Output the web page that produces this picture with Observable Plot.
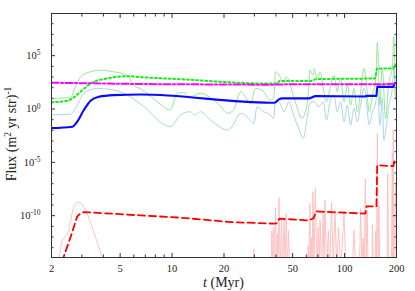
<!DOCTYPE html>
<html><head><meta charset="utf-8">
<script src="https://cdn.jsdelivr.net/npm/d3@7"></script>
<script src="https://cdn.jsdelivr.net/npm/@observablehq/plot@0.6"></script>
<style>body{margin:0;background:#fff}</style>
</head><body><div id="chart"></div>
<script>
// ---- tick values ----
const xMajor = [2, 5, 10, 20, 50, 100, 200];
const xMinor = [3, 4, 6, 7, 8, 9, 30, 40, 60, 70, 80, 90];
const yMajor = [1e-10, 1e-5, 1, 1e5];
const yMinor = [1e-13, 1e-12, 1e-11, 1e-9, 1e-8, 1e-7, 1e-6, 1e-4, 1e-3, 1e-2, 1e-1, 1e1, 1e2, 1e3, 1e4, 1e6, 1e7, 1e8];

// ---- series (t in Myr, flux) ----
const tBlue = [2, 2.64, 2.82, 3.08, 3.37, 3.76, 4.59, 6.6, 37.2, 39.3, 41.6, 43.5, 62, 68, 132, 134, 153, 154.6, 192, 194.6, 200];
const fBlue = [1.6e-2, 2.2e-2, 6.5e-2, 0.81, 6.0, 14, 20, 23, 3.9, 3.9, 8.1, 10, 10, 16, 15, 17, 17, 120, 120, 250, 270];

const tMag = [2, 5, 6.6, 20, 37, 45, 150, 200];
const fMag = [290, 235, 220, 200, 190, 205, 205, 240];

const tDot = [2, 2.47, 2.69, 2.95, 3.37, 4.21, 5.5, 6.56, 11.7, 21, 37.2, 40.8, 42, 64.4, 67.9, 150, 154.6, 192, 194.6, 200];
const fDot = [4.3, 6.0, 12, 42, 250, 740, 1200, 980, 600, 330, 240, 240, 420, 420, 630, 740, 6300, 6300, 14500, 14500];

const tLG = [2, 2.58, 2.75, 2.95, 3.37, 3.84, 4.57, 5.49, 5.97, 6.56, 8.0, 9.78, 10.7, 11.7, 12.7, 14.6, 16.7, 19.1, 21, 22.7, 25, 28.6, 30.4, 33.2, 37.2, 38.8, 39.8, 41.7, 44.6, 45.6, 47.6, 49.6, 51.8, 54.1, 56.5, 59.0, 61.6, 62.9, 65.5, 66.9, 69.2, 72.2, 75.3, 78.6, 82.3, 86.8, 90.7, 94.8, 99.3, 103.8, 108.4, 113.3, 118.6, 123.9, 129.6, 134, 138.8, 145.2, 151.8, 155, 160.3, 165.4, 172.9, 180.8, 189, 193.1, 197.4, 200];
const fLG = [10, 12, 120, 1050, 3100, 4400, 3100, 1500, 174, 80, 6.9, 0.81, 30, 36, 14, 30, 11, 1.9, 0.4, 0.81, 42, 3.4, 85, 60, 6.9, 10, 3100, 1500, 250, 1050, 510, 42, 4.8, 0.56, 0.13, 0.4, 30, 4400, 1500, 6300, 740, 3100, 85, 4.8, 85, 1500, 42, 740, 4.8, 174, 2.3, 85, 0.56, 42, 6300, 174, 0.56, 20, 740, 1.9e6, 2.3, 6300, 0.13, 350, 6300, 5.8e6, 6.9, 510];

const tLB = [2, 2.58, 2.82, 3.08, 3.68, 4.21, 5.24, 6.56, 9.78, 11.2, 12.7, 13.6, 14.6, 16.7, 21, 21.9, 25, 27.2, 29.8, 31.1, 34, 37.2, 38.8, 39.8, 41.7, 44.6, 47.6, 50.6, 54.1, 57.7, 60.3, 62.9, 66.9, 70.4, 75.3, 78.6, 82.3, 86.8, 90.7, 94.8, 99.3, 103.8, 108.4, 113.3, 118.6, 123.9, 129.6, 134, 138.8, 145.2, 151.8, 155, 160.3, 165.4, 169, 172.9, 180.8, 189, 193.1, 197.4, 200];
const fLB = [0.28, 0.32, 2.3, 30, 85, 74, 30, 3.0, 0.022, 0.28, 0.56, 0.28, 0.56, 0.093, 0.011, 0.016, 0.4, 0.19, 0.046, 1.6, 0.56, 0.28, 0.13, 6.9, 4.8, 0.56, 4.8, 0.28, 0.016, 0.0018, 0.065, 3.4, 4.8, 1.6, 4.8, 0.093, 4.8, 20, 0.56, 4.8, 0.065, 2.3, 0.032, 1.2, 0.065, 2.3, 85, 4.8, 0.032, 0.56, 4.8, 174, 0.032, 10, 0.0013, 0.0076, 2.3, 85, 6300, 20, 60];

const tRed = [2.3, 2.34, 2.58, 2.82, 2.95, 3.08, 6.56, 11.2, 21.9, 38.8, 40.4, 41.9, 62, 65.9, 68.5, 132, 134, 153, 154.6, 192, 194.6, 200];
const fRed = [5e-15, 1.1e-14, 9.8e-13, 8.5e-11, 1.7e-10, 2.2e-10, 1.07e-10, 6.5e-11, 2.5e-11, 1.8e-11, 1.9e-11, 5.2e-11, 3.6e-11, 5.6e-11, 2.5e-10, 1.55e-10, 7.4e-10, 7.4e-10, 5.4e-6, 4.4e-6, 1.3e-5, 1.3e-5];

const tPink = [2.15, 2.20, 2.31, 2.47, 2.52, 2.64, 2.755, 2.84, 3.01, 3.22, 3.44, 3.68, 3.93, 4.05,
  29.5, 29.8, 30.1, 37.6, 37.9, 38.3, 38.8, 39.3, 39.8, 40.3, 40.8, 41.2, 41.7, 42.3, 43.1, 43.8, 44.6, 45.2, 45.9, 46.6, 47.3, 48,
  61, 61.5, 62.2, 62.9, 63.6, 64.3, 64.9, 65.5, 66.5, 67.7, 69, 70.4, 71.3, 72.2, 73.5, 75.3, 76, 77, 78.5, 80.6, 82, 84.1, 86, 88, 90, 92.2, 95, 99.3, 102,
  111, 113.3, 116, 122, 123.9, 126, 128, 130, 132, 133.5, 135, 137, 144, 145, 147, 150, 151.8, 153, 155, 156.5, 158, 160,
  176, 178, 180, 187, 189, 190.5, 191.5, 193, 197.4, 199];
const fPink = [1e-15, 1.1e-14, 4.8e-13, 2.0e-12, 4.2e-12, 2.2e-10, 1.35e-9, 1.9e-9, 1.35e-9, 1.55e-10, 8.5e-12, 3.3e-13, 1.3e-14, 1e-15,
  1e-15, 8e-14, 1e-15, 1e-15, 4e-12, 1e-15, 8.5e-12, 1e-15, 4.6e-10, 1e-15, 2e-12, 1e-15, 4.9e-9, 1e-15, 3.6e-11, 1e-15, 7.4e-11, 1e-15, 1.55e-10, 1e-15, 4e-12, 1e-15,
  1e-15, 1.5e-13, 1e-15, 1.35e-9, 1e-15, 8e-13, 1e-15, 1.7e-8, 1e-15, 3.5e-8, 1e-15, 8.5e-12, 1e-15, 3.6e-11, 1e-15, 3.2e-10, 1e-15, 2.8e-9, 1e-15, 4e-12, 1e-15, 1.9e-9, 1e-15, 3.2e-10, 1e-15, 8.5e-12, 1e-15, 1.55e-10, 1e-15,
  1e-15, 4.2e-12, 1e-15, 1e-15, 4.6e-10, 1e-15, 8e-13, 1e-15, 3e-7, 1e-15, 3.2e-10, 1e-15, 1e-15, 1.5e-11, 1e-15, 1e-15, 4e-12, 1e-15, 5.5e-3, 1e-15, 1e-9, 1e-15,
  1e-15, 9e-7, 1e-15, 1e-15, 7.2e-5, 1e-15, 1.1e-2, 1e-15, 1e-7, 1e-15];

const rows = (ts, fs) => ts.map((t, i) => ({t, f: fs[i]}));

const axisColor = "#333";
const supExp = d => "10^" + Math.round(Math.log10(d));

const svg = Plot.plot({
  width: 415, height: 291,
  marginLeft: 51, marginRight: 19, marginTop: 13, marginBottom: 34,
  style: {fontFamily: "'Liberation Serif', serif", fontSize: "10.5px", background: "#fff", color: "#222"},
  x: {type: "log", domain: [2, 200]},
  y: {type: "log", domain: [1.2e-14, 9e8]},
  marks: [
    Plot.line(rows(tPink, fPink), {x: "t", y: "f", stroke: "#ffbcbc", strokeWidth: 0.9, clip: true}),
    Plot.line(rows(tRed, fRed), {x: "t", y: "f", stroke: "#ff0000", strokeWidth: 1.8, strokeDasharray: "7,4", clip: true}),
    Plot.line(rows(tLB, fLB), {x: "t", y: "f", stroke: "#a9d6e5", strokeWidth: 1, curve: "monotone-x", clip: true}),
    Plot.line(rows(tLG, fLG), {x: "t", y: "f", stroke: "#98e698", strokeWidth: 1, curve: "monotone-x", clip: true}),
    Plot.line(rows(tBlue, fBlue), {x: "t", y: "f", stroke: "#0a0aff", strokeWidth: 2.1, curve: "monotone-x", clip: true}),
    Plot.line(rows(tDot, fDot), {x: "t", y: "f", stroke: "#11ee11", strokeWidth: 2, strokeDasharray: "1.8,2.8", curve: "monotone-x", clip: true}),
    Plot.line(rows(tMag, fMag), {x: "t", y: "f", stroke: "#ff00ff", strokeWidth: 2, strokeDasharray: "7,2.5,2,2.5", curve: "monotone-x", clip: true}),
    Plot.frame({stroke: axisColor, strokeWidth: 1}),
    // inward ticks, all four sides
    Plot.axisX(xMajor, {anchor: "bottom", tickSize: -4, fill: "none", stroke: axisColor, label: null}),
    Plot.axisX(xMinor, {anchor: "bottom", tickSize: -2.5, fill: "none", stroke: axisColor, label: null}),
    Plot.axisX(xMajor, {anchor: "top", tickSize: -4, fill: "none", stroke: axisColor, label: null}),
    Plot.axisX(xMinor, {anchor: "top", tickSize: -2.5, fill: "none", stroke: axisColor, label: null}),
    Plot.axisY(yMajor, {anchor: "left", tickSize: -4, fill: "none", stroke: axisColor, label: null}),
    Plot.axisY(yMinor, {anchor: "left", tickSize: -2.5, fill: "none", stroke: axisColor, label: null}),
    Plot.axisY(yMajor, {anchor: "right", tickSize: -4, fill: "none", stroke: axisColor, label: null}),
    Plot.axisY(yMinor, {anchor: "right", tickSize: -2.5, fill: "none", stroke: axisColor, label: null}),
    // labels
    Plot.text(xMajor, {x: d => d, frameAnchor: "bottom", lineAnchor: "top", dy: 7.5, text: d => String(d), fill: "#222", fontSize: 10.5}),
    Plot.axisY(yMajor, {anchor: "left", tickSize: 0, tickPadding: 11, tickFormat: supExp, label: null, fill: "#222"})
  ]
});

document.getElementById("chart").appendChild(svg);

const s = d3.select(svg);
s.selectAll('g[aria-label="y-axis tick label"] text').each(function () {
  const parts = this.textContent.split("^");
  const t = d3.select(this);
  t.text(parts[0]);
  t.append("tspan").attr("dy", "-0.5em").attr("font-size", "7.5px").text(parts[1]);
});

// axis titles
const yl = s.append("text")
  .attr("transform", "translate(16,134) rotate(-90)")
  .attr("text-anchor", "middle")
  .attr("font-size", "14px").attr("fill", "#222");
yl.append("tspan").text("Flux (m");
yl.append("tspan").attr("dy", "-5").attr("font-size", "9.5px").text("2");
yl.append("tspan").attr("dy", "5").text(" yr str)");
yl.append("tspan").attr("dy", "-5").attr("font-size", "9.5px").text("-1");

const xl = s.append("text")
  .attr("x", 223.5).attr("y", 286.5)
  .attr("text-anchor", "middle")
  .attr("font-size", "14px").attr("fill", "#222");
xl.append("tspan").attr("font-style", "italic").text("t");
xl.append("tspan").text(" (Myr)");
</script>
</body></html>
